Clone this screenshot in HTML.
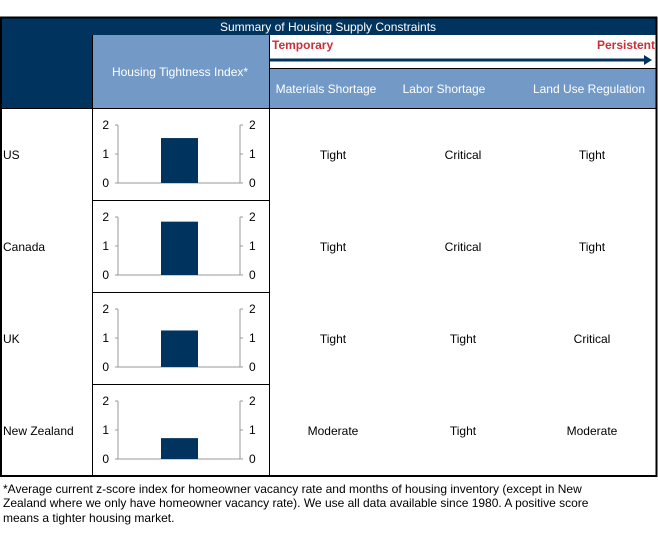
<!DOCTYPE html>
<html><head><meta charset="utf-8"><style>
body{margin:0;width:658px;height:537px;background:#fff;font-family:"Liberation Sans",sans-serif;overflow:hidden}
svg text{font-family:"Liberation Sans",sans-serif}
</style></head><body>
<svg width="658" height="537">
<rect x="0" y="17" width="657" height="18" fill="#00345E"/>
<rect x="0" y="35" width="92" height="73" fill="#00345E"/>
<rect x="92" y="35" width="177" height="73" fill="#7399C6"/>
<rect x="269" y="69" width="388" height="39" fill="#7399C6"/>
<text x="328" y="31" fill="#fff" font-size="12" text-anchor="middle">Summary of Housing Supply Constraints</text>
<text x="180" y="76" fill="#fff" font-size="12" text-anchor="middle">Housing Tightness Index*</text>
<text x="272" y="49" fill="#C8303A" font-size="12" font-weight="bold">Temporary</text>
<text x="655" y="49" fill="#C8303A" font-size="12" font-weight="bold" text-anchor="end">Persistent</text>
<line x1="269" y1="60" x2="645" y2="60" stroke="#00345E" stroke-width="3"/>
<polygon points="644,55 652,60 644,65" fill="#00345E"/>
<line x1="269" y1="68.5" x2="657" y2="68.5" stroke="#000" stroke-width="1"/>
<text x="326" y="93" fill="#fff" font-size="12" text-anchor="middle">Materials Shortage</text>
<text x="444" y="93" fill="#fff" font-size="12" text-anchor="middle">Labor Shortage</text>
<text x="589" y="93" fill="#fff" font-size="12" text-anchor="middle">Land Use Regulation</text>
<g id="rows"></g>
<rect x="1" y="17.5" width="655.5" height="458.5" fill="none" stroke="#000" stroke-width="2"/>
<line x1="92.5" y1="35" x2="92.5" y2="476" stroke="#000"/>
<line x1="269.5" y1="35" x2="269.5" y2="476" stroke="#000"/>
<line x1="0" y1="108.5" x2="657" y2="108.5" stroke="#000"/>
<text font-size="12" fill="#000">
<tspan x="3" y="493">*Average current z-score index for homeowner vacancy rate and months of housing inventory (except in New</tspan>
<tspan x="3" y="507">Zealand where we only have homeowner vacancy rate). We use all data available since 1980. A positive score</tspan>
<tspan x="3" y="522">means a tighter housing market.</tspan>
</text>
</svg>
<script>
const countries=["US","Canada","UK","New Zealand"];
const indexValues=[1.55,1.84,1.26,0.72];
const materials=["Tight","Tight","Tight","Moderate"];
const labor=["Critical","Critical","Tight","Tight"];
const land=["Tight","Tight","Critical","Moderate"];
const ticks=[0,1,2];
const NS="http://www.w3.org/2000/svg";
const g=document.getElementById('rows');
function mk(t,a){const e=document.createElementNS(NS,t);for(const k in a)e.setAttribute(k,a[k]);g.appendChild(e);return e;}
countries.forEach((c,i)=>{
  const top=108+i*92;
  const y=v=>top+75-v*29;
  if(i>0){mk('line',{x1:92,y1:top+0.5,x2:270,y2:top+0.5,stroke:'#000'});}
  const lab=mk('text',{x:3,y:top+51,'font-size':12});lab.textContent=c;
  
  
  [[materials,333],[labor,463],[land,592]].forEach(([arr,x])=>{
    const t=mk('text',{x:x,y:top+51,'font-size':12,'text-anchor':'middle'});t.textContent=arr[i];
    
    
  });
  mk('line',{x1:118,y1:y(2),x2:118,y2:y(0),stroke:'#999'});
  mk('line',{x1:240,y1:y(2),x2:240,y2:y(0),stroke:'#999'});
  mk('line',{x1:118,y1:y(0),x2:240,y2:y(0),stroke:'#999'});
  ticks.forEach(t=>{
    mk('line',{x1:115,y1:y(t),x2:118,y2:y(t),stroke:'#999'});
    mk('line',{x1:240,y1:y(t),x2:243,y2:y(t),stroke:'#999'});
    const l=mk('text',{x:109,y:y(t)+4,'font-size':12,'text-anchor':'end'});l.textContent=t;
    
    
    const r=mk('text',{x:249,y:y(t)+4,'font-size':12});r.textContent=t;
    
    
  });
  const b=mk('rect',{x:161,y:y(indexValues[i]),width:37,height:y(0)-y(indexValues[i]),fill:'#00345E'});
  
  
});
</script>
</body></html>
